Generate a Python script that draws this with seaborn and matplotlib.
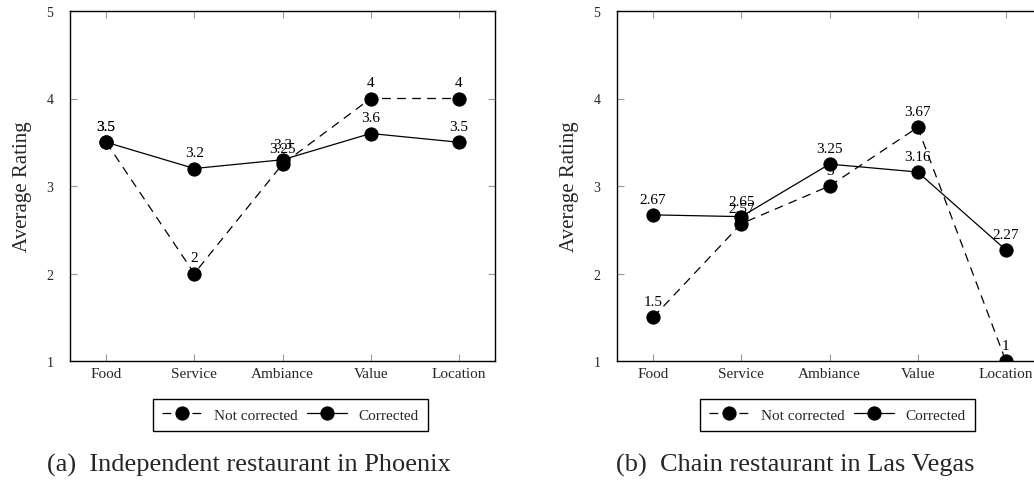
import matplotlib
matplotlib.use("Agg")
import matplotlib.pyplot as plt
import seaborn as sns
import pandas as pd

categories = ["Food", "Service", "Ambiance", "Value", "Location"]
phx_not_corrected = [3.5, 2, 3.25, 4, 4]
phx_corrected = [3.5, 3.2, 3.3, 3.6, 3.5]
lv_not_corrected = [1.5, 2.57, 3, 3.67, 1]
lv_corrected = [2.67, 2.65, 3.25, 3.16, 2.27]
captions = ["(a)  Independent restaurant in Phoenix", "(b)  Chain restaurant in Las Vegas"]
yticks = [1, 2, 3, 4, 5]

sns.set_style("white")
plt.rcParams["font.family"] = ["Liberation Serif", "DejaVu Serif"]
plt.rcParams["mathtext.fontset"] = "stix"

fig = plt.figure(figsize=(10.34, 4.85), dpi=100)
W, H = 1034, 485
ax_w, ax_h = 425, 350
top = 12
axes = [
    fig.add_axes([70 / W, (H - top - ax_h) / H, ax_w / W, ax_h / H]),
    fig.add_axes([617 / W, (H - top - ax_h) / H, ax_w / W, ax_h / H]),
]
caption_x = [249, 795]

datasets = [(phx_not_corrected, phx_corrected), (lv_not_corrected, lv_corrected)]

for ax, (nc, c), cap, cx in zip(axes, datasets, captions, caption_x):
    df = pd.DataFrame({
        "aspect": categories * 2,
        "rating": nc + c,
        "series": ["Not corrected"] * len(categories) + ["Corrected"] * len(categories),
    })
    sns.lineplot(data=df, x="aspect", y="rating", style="series",
                 style_order=["Not corrected", "Corrected"],
                 dashes={"Not corrected": (7, 5), "Corrected": ""},
                 markers={"Not corrected": "o", "Corrected": "o"},
                 color="black", markersize=9.5, linewidth=0.9,
                 markeredgecolor="black", sort=False, ax=ax)
    for vals in (nc, c):
        for i, v in enumerate(vals):
            ax.annotate(f"{v:g}", (i, v), xytext=(0, 6.5), textcoords="offset points",
                        ha="center", va="bottom", fontsize=11, color="black")
    ax.set_xlim(-0.41, 4.41)
    ax.set_ylim(1, 5)
    ax.set_yticks(yticks)
    ax.set_xlabel("")
    ax.set_ylabel("Average Rating", fontsize=15, labelpad=10)
    ax.tick_params(axis="both", which="both", direction="in", length=5, width=0.8,
                   color="#999999", labelsize=11, top=True, right=True,
                   bottom=True, left=True, pad=4)
    ax.tick_params(axis="y", labelsize=10, pad=12)
    for s in ax.spines.values():
        s.set_visible(True)
        s.set_color("black")
        s.set_linewidth(1.0)
    handles, labels = ax.get_legend_handles_labels()
    ax.legend(handles, labels, loc="center", bbox_to_anchor=(0.519, -0.154), ncol=2,
              frameon=True, fancybox=False, edgecolor="black", fontsize=11,
              handlelength=2.6, columnspacing=0.6, handletextpad=0.8,
              borderpad=0.6, framealpha=1)
    ax.get_legend().get_frame().set_linewidth(1.0)
    fig.text(cx / W, (H - 465) / H, cap, ha="center", va="center", fontsize=19)

fig.savefig("out.png", dpi=100)
